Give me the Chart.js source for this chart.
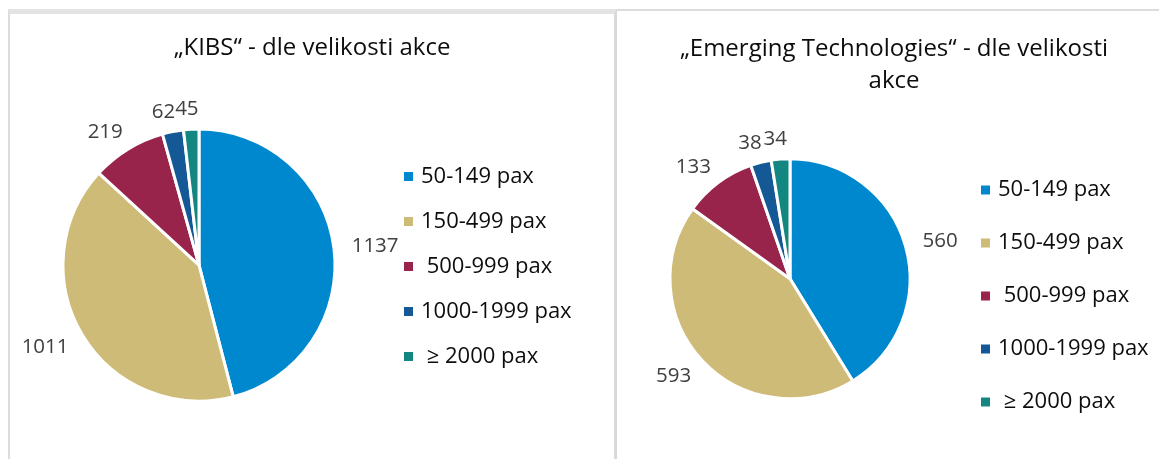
<!DOCTYPE html>
<html>
<head>
<meta charset="utf-8">
<script src="https://cdn.jsdelivr.net/npm/chart.js@4.4.0/dist/chart.umd.min.js"></script>
<style>
  body { margin: 0; background: #fff; width: 1159px; height: 459px; overflow: hidden; position: relative; }
  .panel { position: absolute; box-sizing: border-box; }
  #panel1 { left: 8px; top: 9px; width: 609px; height: 480px; border-top: 5px solid #e3e3e3; border-left: 2px solid #dcdcdc; border-right: 3px solid #d9d9d9; }
  #panel2 { left: 617px; top: 9px; width: 560px; height: 480px; border-top: 2px solid #dcdcdc; }
  canvas { position: absolute; top: 0; }
  #grafKibs { left: 4px; }
  #grafEmerging { left: 10px; }
</style>
</head>
<body>
<div class="panel" id="panel1"><canvas id="grafKibs" width="596" height="445"></canvas></div>
<div class="panel" id="panel2"><canvas id="grafEmerging" width="534" height="448"></canvas></div>
<script>
// DATA
const kategorie = ['50-149 pax', '150-499 pax', ' 500-999 pax', '1000-1999 pax', ' \u2265 2000 pax'];
const hodnotyKibs = [1137, 1011, 219, 62, 45];
const hodnotyEmerging = [560, 593, 133, 38, 34];
const barvy = ['#0088cf', '#cdbb77', '#98234b', '#145896', '#148681'];

const PISMO = '"Open Sans", "Noto Sans", sans-serif';
const VELIKOST_LEGENDY = 22;

// sirka nejdelsiho popisku legendy (pro umisteni legendy)
function sirkaLegendy() {
  const c = document.createElement('canvas').getContext('2d');
  c.font = VELIKOST_LEGENDY + 'px ' + PISMO;
  return Math.max(...kategorie.map(t => c.measureText(t).width));
}
const W = sirkaLegendy();

// popisky hodnot vne vysece
const popisky = {
  id: 'popisky',
  afterDatasetsDraw(chart) {
    const ctx = chart.ctx;
    const meta = chart.getDatasetMeta(0);
    ctx.save();
    ctx.font = '20.5px ' + PISMO;
    ctx.fillStyle = '#404040';
    ctx.textAlign = 'center';
    ctx.textBaseline = 'middle';
    meta.data.forEach((arc, i) => {
      const p = arc.getProps(['x', 'y', 'startAngle', 'endAngle', 'outerRadius'], true);
      const a = (p.startAngle + p.endAngle) / 2;
      const dx = Math.cos(a), dy = Math.sin(a);
      const text = String(chart.data.datasets[0].data[i]);
      const w = ctx.measureText(text).width;
      const d = p.outerRadius + 15;
      const kx = Math.sign(dx) * Math.sqrt(Math.abs(dx));
      ctx.fillText(text, p.x + dx * d + kx * (w / 2 + 3), p.y + dy * (d + 6) + 1);
    });
    ctx.restore();
  }
};

// legenda sirsi o "navic" px, aby titulek zustal na stredu platna
const sirsiLegenda = {
  id: 'sirsiLegenda',
  beforeInit(chart, args, opts) {
    const lg = chart.legend;
    if (!lg) return;
    const fit = lg.fit;
    lg.fit = function() {
      fit.call(this);
      this.width += opts.navic;
    };
  }
};

function vytvorGraf(id, hodnoty, titulek, nastaveni) {
  return new Chart(document.getElementById(id), {
    type: 'pie',
    data: {
      labels: kategorie,
      datasets: [{
        data: hodnoty,
        backgroundColor: barvy,
        borderColor: '#ffffff',
        borderWidth: 3,
        radius: nastaveni.radius
      }]
    },
    options: {
      responsive: false,
      animation: false,
      layout: { padding: 0 },
      plugins: {
        tooltip: { enabled: false },
        sirsiLegenda: { navic: nastaveni.navic },
        title: {
          display: true,
          text: titulek,
          color: '#0d0d0d',
          font: { family: PISMO, size: 24, weight: 'normal', lineHeight: 1.3 },
          padding: { top: nastaveni.titTop, bottom: nastaveni.titBottom }
        },
        legend: {
          position: 'right',
          // prazdny titulek legendy jen posouva polozky dolu
          title: { display: true, text: ' ', font: { size: 10 }, padding: nastaveni.posunLegendy - 6 },
          labels: {
            color: '#0d0d0d',
            font: { family: PISMO, size: VELIKOST_LEGENDY },
            usePointStyle: true,
            boxWidth: 3,
            boxHeight: 9,
            padding: nastaveni.mezera,
            generateLabels(chart) {
              const polozky = Chart.overrides.pie.plugins.legend.labels.generateLabels(chart);
              polozky.forEach(p => { p.lineWidth = 0; p.pointStyle = 'rect'; });
              return polozky;
            }
          }
        }
      }
    },
    plugins: [popisky, sirsiLegenda]
  });
}

vytvorGraf('grafKibs', hodnotyKibs, '\u201eKIBS\u201c - dle velikosti akce', {
  radius: 136, navic: 179 - W, titTop: 18.5, titBottom: 7.5, mezera: 23, posunLegendy: 30
});

vytvorGraf('grafEmerging', hodnotyEmerging, ['\u201eEmerging Technologies\u201c - dle velikosti', 'akce'], {
  radius: 120, navic: 153 - W, titTop: 23, titBottom: 2, mezera: 31, posunLegendy: 61
});
</script>
</body>
</html>
